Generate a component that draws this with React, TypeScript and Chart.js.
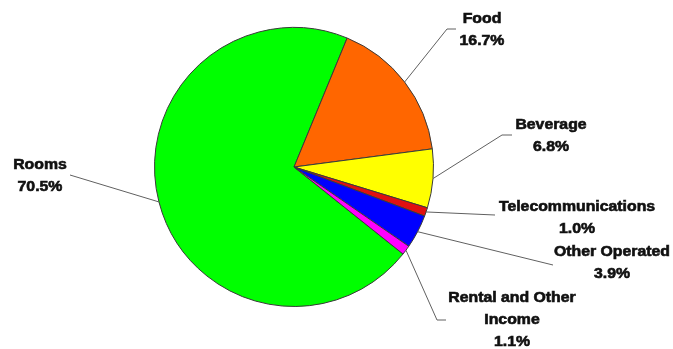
import React, { useEffect, useRef } from "react";
import { Chart, registerables } from "chart.js";

Chart.register(...registerables);

const categories = ["Rooms", "Food", "Beverage", "Telecommunications", "Other Operated", "Rental and Other Income"];
const labelLines = [["Rooms"], ["Food"], ["Beverage"], ["Telecommunications"], ["Other Operated"], ["Rental and Other", "Income"]];
const shares = [70.5, 16.7, 6.8, 1.0, 3.9, 1.1];
const colors = ["#00FF00", "#FF6600", "#FFFF00", "#E01010", "#0000FF", "#FF00FF"];

// label layout: text center x, first line center y, leader elbow points
const labelLayout = [
  { x: 40, y: 165, path: [[70, 175]] },
  { x: 482, y: 19, path: [[447, 29], [456, 29]] },
  { x: 551, y: 125, path: [[502, 135], [512, 135]] },
  { x: 577, y: 207, path: [[495, 215]] },
  { x: 612, y: 252, path: [[553, 265]] },
  { x: 512, y: 298, path: [[437, 320], [446, 320]] },
];

const labelPlugin = {
  id: "leaderLabels",
  afterDatasetsDraw(chart: any) {
    const ctx = chart.ctx;
    const meta = chart.getDatasetMeta(0);
    meta.data.forEach((arc: any, i: number) => {
      const mid = (arc.startAngle + arc.endAngle) / 2;
      const r = arc.outerRadius;
      const sx = arc.x + Math.cos(mid) * r;
      const sy = arc.y + Math.sin(mid) * r;
      const lay = labelLayout[i];
      ctx.save();
      ctx.strokeStyle = "#606060";
      ctx.lineWidth = 1;
      ctx.beginPath();
      ctx.moveTo(sx, sy);
      lay.path.forEach((p) => ctx.lineTo(p[0], p[1]));
      ctx.stroke();
      const lines = [...labelLines[i], shares[i].toFixed(1) + "%"];
      ctx.fillStyle = "#111";
      ctx.strokeStyle = "#111";
      ctx.lineWidth = 0.6;
      ctx.font = "bold 14px 'Liberation Sans', Arial, sans-serif";
      ctx.textAlign = "center";
      ctx.textBaseline = "middle";
      lines.forEach((t, k) => {
        ctx.save();
        ctx.translate(lay.x, lay.y + k * 22);
        ctx.scale(1.13, 1);
        ctx.fillText(t, 0, 0);
        ctx.strokeText(t, 0, 0);
        ctx.restore();
      });
      ctx.restore();
    });
  },
};

export default function App() {
  const ref = useRef<HTMLCanvasElement>(null);
  useEffect(() => {
    document.body.style.margin = "0";
    const chart = new Chart(ref.current!, {
      type: "pie",
      data: {
        labels: categories,
        datasets: [
          {
            data: shares,
            backgroundColor: colors,
            borderColor: "#3a3a3a",
            borderWidth: 1,
          },
        ],
      },
      options: {
        responsive: false,
        animation: false,
        rotation: 128.6,
        layout: { padding: { top: 27, bottom: 42, left: 154, right: 239 } },
        plugins: { legend: { display: false }, tooltip: { enabled: false } },
      },
      plugins: [labelPlugin],
    });
    return () => chart.destroy();
  }, []);
  return (
    <div style={{ width: 673, height: 349, background: "#fff" }}>
      <canvas ref={ref} width={673} height={349} />
    </div>
  );
}
